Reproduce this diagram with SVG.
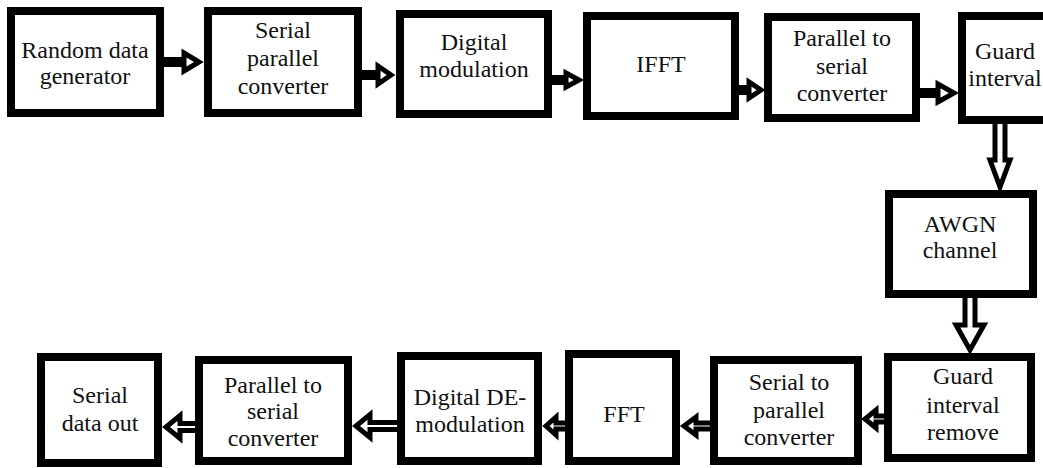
<svg xmlns="http://www.w3.org/2000/svg" width="1043" height="468" viewBox="0 0 1043 468">
<style>
.box{fill:#fff;stroke:#000;stroke-width:8}
.arr{fill:#fff;stroke:#000;stroke-width:5;stroke-linejoin:miter;stroke-miterlimit:10}
text{font-family:"Liberation Serif","Times New Roman",serif;font-size:24px;fill:#111;text-anchor:middle}
</style>
<rect width="1043" height="468" fill="#fff"/>
<g id="connectors">
<path class="arr" d="M160,59.5 L184,59.5 L184,53 L199,62 L184,71 L184,64.5 L160,64.5 Z"/>
<path class="arr" d="M358,72.5 L378,72.5 L378,66 L391,75 L378,84 L378,77.5 L358,77.5 Z"/>
<path class="arr" d="M548,77.5 L566,77.5 L566,73 L579,80 L566,87 L566,82.5 L548,82.5 Z"/>
<path class="arr" d="M735,87.5 L749,87.5 L749,82 L761,90 L749,98 L749,92.5 L735,92.5 Z"/>
<path class="arr" d="M916,90.5 L938,90.5 L938,84 L954,93 L938,102 L938,95.5 L916,95.5 Z"/>
<path class="arr" d="M995,120 L995,160 L990,160 L1000,187 L1010,160 L1005,160 L1005,120 Z"/>
<path class="arr" d="M965,295 L965,325 L956,325 L970,350 L984,325 L975,325 L975,295 Z"/>
<path class="arr" d="M888,416 L876,416 L876,410 L865,419 L876,428 L876,422 L888,422 Z"/>
<path class="arr" d="M714,423 L696,423 L696,417 L684,426 L696,435 L696,429 L714,429 Z"/>
<path class="arr" d="M569,423 L556,423 L556,417 L546,426 L556,435 L556,429 L569,429 Z"/>
<path class="arr" d="M401,422.5 L370,422.5 L370,414.5 L356,426 L370,437.5 L370,429.5 L401,429.5 Z"/>
<path class="arr" d="M199,423.5 L180,423.5 L180,415.5 L166,427 L180,438.5 L180,430.5 L199,430.5 Z"/>
</g>
<g id="random-data-generator">
<rect class="box" x="11" y="11" width="149" height="102"/>
<text x="85" y="58">Random data</text>
<text x="85" y="84">generator</text>
</g>
<g id="serial-parallel-converter">
<rect class="box" x="208" y="11" width="150" height="102"/>
<text x="283" y="38">Serial</text>
<text x="283" y="66">parallel</text>
<text x="283" y="94">converter</text>
</g>
<g id="digital-modulation">
<rect class="box" x="400" y="14" width="148" height="100"/>
<text x="474" y="50">Digital</text>
<text x="474" y="77">modulation</text>
</g>
<g id="ifft">
<rect class="box" x="587" y="16" width="148" height="100"/>
<text x="661" y="72">IFFT</text>
</g>
<g id="parallel-to-serial-tx">
<rect class="box" x="768" y="17" width="148" height="101"/>
<text x="842" y="46">Parallel to</text>
<text x="842" y="74">serial</text>
<text x="842" y="101">converter</text>
</g>
<g id="guard-interval">
<rect class="box" x="962" y="16" width="100" height="104"/>
<text x="1005" y="59">Guard</text>
<text x="1005" y="86">interval</text>
</g>
<g id="awgn-channel">
<rect class="box" x="889" y="194" width="144" height="100"/>
<text x="960" y="232">AWGN</text>
<text x="960" y="258">channel</text>
</g>
<g id="guard-interval-remove">
<rect class="box" x="888" y="357" width="143" height="101"/>
<text x="963" y="384">Guard</text>
<text x="963" y="413">interval</text>
<text x="963" y="440">remove</text>
</g>
<g id="serial-to-parallel-rx">
<rect class="box" x="714" y="360" width="144" height="101"/>
<text x="789" y="390">Serial to</text>
<text x="789" y="418">parallel</text>
<text x="789" y="445">converter</text>
</g>
<g id="fft">
<rect class="box" x="569" y="354" width="107" height="107"/>
<text x="624" y="422">FFT</text>
</g>
<g id="digital-demodulation">
<rect class="box" x="401" y="356" width="137" height="105"/>
<text x="470" y="405">Digital DE-</text>
<text x="470" y="432">modulation</text>
</g>
<g id="parallel-to-serial-rx">
<rect class="box" x="199" y="360" width="149" height="101"/>
<text x="273" y="393">Parallel to</text>
<text x="273" y="419">serial</text>
<text x="273" y="446">converter</text>
</g>
<g id="serial-data-out">
<rect class="box" x="41" y="357" width="117" height="106"/>
<text x="100" y="403">Serial</text>
<text x="100" y="431">data out</text>
</g>
</svg>
